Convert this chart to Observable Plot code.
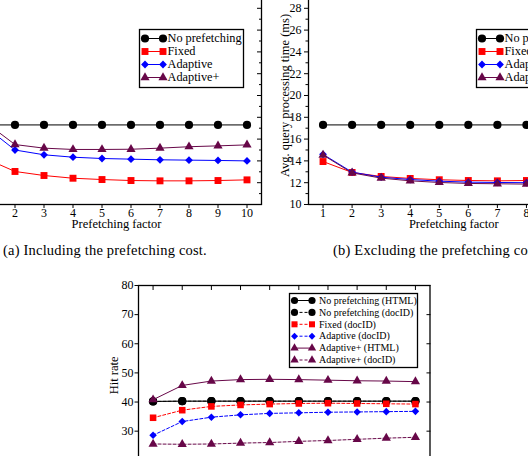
<!DOCTYPE html>
<html>
<head>
<meta charset="utf-8">
<script src="https://cdn.jsdelivr.net/npm/d3@7"></script>
<script src="https://cdn.jsdelivr.net/npm/@observablehq/plot@0.6"></script>
<style>
  html, body { margin: 0; padding: 0; background: #fff; }
  #fig { position: relative; width: 528px; height: 456px; overflow: hidden; background: #fff;
         font-family: "Liberation Serif", "Times New Roman", serif; color: #000; }
  .panel { position: absolute; }
  .panel svg { overflow: visible; max-width: none !important; display: block; }
  .legend { position: absolute; }
  .legend svg { display: block; }
  .caption { position: absolute; font-size: 14.5px; letter-spacing: 0.2px; white-space: nowrap; line-height: 1; }
</style>
</head>
<body>
<div id="fig"></div>
<script>
// Prefetching factor
const factors = [1, 2, 3, 4, 5, 6, 7, 8, 9, 10];

// (a) Avg. query processing time (ms), including the prefetching cost
const costNoPrefetch   = [17.3, 17.3, 17.3, 17.3, 17.3, 17.3, 17.3, 17.3, 17.3, 17.3];
const costFixed        = [14.2, 13.03, 12.66, 12.41, 12.29, 12.2, 12.17, 12.17, 12.2, 12.26];
const costAdaptive     = [17.1, 15.0, 14.56, 14.34, 14.22, 14.16, 14.1, 14.07, 14.04, 14.0];
const costAdaptivePlus = [17.5, 15.5, 15.17, 15.05, 15.05, 15.07, 15.17, 15.3, 15.38, 15.47];

// (b) Avg. query processing time (ms), excluding the prefetching cost
const exclFactors      = [1, 2, 3, 4, 5, 6, 7, 8];
const exclNoPrefetch   = [17.3, 17.3, 17.3, 17.3, 17.3, 17.3, 17.3, 17.3];
const exclFixed        = [13.94, 12.94, 12.57, 12.39, 12.27, 12.2, 12.17, 12.2];
const exclAdaptive     = [14.6, 12.97, 12.5, 12.29, 12.14, 12.05, 12.02, 12.0];
const exclAdaptivePlus = [14.54, 12.9, 12.42, 12.17, 12.02, 11.93, 11.9, 11.87];

// (c) Hit rate
const hitNoPrefetchHTML    = [40.2, 40.3, 40.3, 40.3, 40.3, 40.3, 40.3, 40.3, 40.3, 40.3];
const hitNoPrefetchDocID   = [40.2, 40.3, 40.3, 40.3, 40.3, 40.3, 40.3, 40.3, 40.3, 40.3];
const hitFixedDocID        = [34.6, 37.2, 38.5, 39.0, 39.3, 39.5, 39.6, 39.5, 39.4, 39.3];
const hitAdaptiveDocID     = [28.6, 33.3, 34.8, 35.6, 36.1, 36.3, 36.5, 36.6, 36.7, 36.8];
const hitAdaptivePlusHTML  = [40.8, 45.7, 47.2, 47.7, 47.8, 47.7, 47.5, 47.3, 47.2, 47.0];
const hitAdaptivePlusDocID = [25.6, 25.5, 25.6, 25.9, 26.1, 26.5, 26.8, 27.2, 27.6, 27.9];

// Tick values
const timeTicks      = [10, 12, 14, 16, 18, 20, 22, 24, 26, 28, 30];
const timeMinorTicks = [11, 13, 15, 17, 19, 21, 23, 25, 27, 29];
const hitTicks       = [20, 30, 40, 50, 60, 70, 80];

// Labels
const timeLegend = ["No prefetching", "Fixed", "Adaptive", "Adaptive+"];
const hitLegend = ["No prefetching (HTML)", "No prefetching (docID)", "Fixed (docID)",
                   "Adaptive (docID)", "Adaptive+ (HTML)", "Adaptive+ (docID)"];
const xLabel = "Prefetching factor";
const timeLabel = "Avg. query processing time (ms)";
const hitLabel = "Hit rate";
const captionA = "(a) Including the prefetching cost.";
const captionB = "(b) Excluding the prefetching cost.";

// Series styling (xmgrace-like palette)
const BLACK = "#000000", RED = "#ff0000", BLUE = "#0000ff", MAROON = "#670748";
const styleNone  = {color: BLACK,  symbol: "circle",   r: 4.1};
const styleFixed = {color: RED,    symbol: "square",   r: 3.9};
const styleAdapt = {color: BLUE,   symbol: "diamond2", r: 3.5};
const stylePlus  = {color: MAROON, symbol: "triangle", r: 3.4};
const DASH = "3,2";

const fig = document.getElementById("fig");

function seriesMarks(xs, ys, st, dash) {
  const data = xs.map((x, i) => ({x, y: ys[i]}));
  return [
    Plot.line(data, {x: "x", y: "y", stroke: st.color, strokeWidth: 1, strokeDasharray: dash}),
    Plot.dot(data, {x: "x", y: "y", symbol: () => st.symbol, r: st.r, fill: st.color, stroke: "none"})
  ];
}

function place(node, left, top, cls, width) {
  const wrap = document.createElement("div");
  wrap.className = cls;
  wrap.style.left = left + "px";
  wrap.style.top = top + "px";
  if (width) wrap.style.width = width + "px";
  wrap.appendChild(node);
  fig.appendChild(wrap);
}

const symbolTypes = {circle: d3.symbolCircle, square: d3.symbolSquare,
                     diamond2: d3.symbolDiamond2, triangle: d3.symbolTriangle};

// Legend box drawn with d3 symbols, same look as the plotted series
function legend(entries, o) {
  const svg = d3.create("svg").attr("width", o.width + 2).attr("height", o.height + 2)
    .style("overflow", "visible");
  svg.append("rect").attr("x", 0.5).attr("y", 0.5).attr("width", o.width).attr("height", o.height)
    .attr("fill", "#fff").attr("stroke", "#000").attr("stroke-width", 1.3);
  entries.forEach((e, i) => {
    const y = o.firstRow + i * o.rowStep;
    svg.append("line").attr("x1", o.x1).attr("x2", o.x2).attr("y1", y).attr("y2", y)
      .attr("stroke", e.st.color).attr("stroke-width", 1).attr("stroke-dasharray", e.dash || null);
    for (const x of [o.x1, o.x2]) {
      svg.append("path")
        .attr("d", d3.symbol(symbolTypes[e.st.symbol], Math.PI * e.st.r * e.st.r)())
        .attr("transform", `translate(${x},${y})`)
        .attr("fill", e.st.color);
    }
    svg.append("text").attr("x", o.textX).attr("y", y).attr("dy", "0.32em")
      .attr("font-size", o.fontSize).attr("font-family", "Liberation Serif, serif")
      .attr("fill", "#000").text(e.label);
  });
  return svg.node();
}

const baseStyle = {fontFamily: "Liberation Serif, serif", fontSize: "12px", color: "#000",
                   background: "transparent", overflow: "visible"};

// ---------- (a) Including the prefetching cost ----------
const plotA = Plot.plot({
  width: 350, height: 268,
  marginLeft: 50, marginRight: 10, marginTop: 10, marginBottom: 40,
  x: {domain: [0.5, 10.5]},
  y: {domain: [10, 30]},
  style: baseStyle,
  marks: [
    Plot.frame({stroke: "#000", strokeWidth: 1.3}),
    Plot.axisX({anchor: "bottom", ticks: factors, tickSize: 4, tickPadding: 0, label: null, fontSize: 12}),
    Plot.axisY({anchor: "right", ticks: timeTicks, tickSize: 5, dx: -5, tickFormat: () => "", label: null}),
    Plot.axisY({anchor: "right", ticks: timeMinorTicks, tickSize: 3, dx: -3, tickFormat: () => "", label: null}),
    Plot.text([xLabel], {text: d => d, frameAnchor: "bottom", textAnchor: "middle", dy: 19.5, lineAnchor: "middle", fontSize: 12.5}),
    ...seriesMarks(factors, costNoPrefetch, styleNone),
    ...seriesMarks(factors, costFixed, styleFixed),
    ...seriesMarks(factors, costAdaptive, styleAdapt),
    ...seriesMarks(factors, costAdaptivePlus, stylePlus)
  ]
});
place(plotA, -79.5, -24, "panel", 350);

// ---------- (b) Excluding the prefetching cost ----------
const plotB = Plot.plot({
  width: 350.6, height: 268,
  marginLeft: 50, marginRight: 10, marginTop: 10, marginBottom: 40,
  x: {domain: [0.5, 10.5]},
  y: {domain: [10, 30]},
  style: baseStyle,
  marks: [
    Plot.frame({stroke: "#000", strokeWidth: 1.3}),
    Plot.axisX({anchor: "bottom", ticks: factors, tickSize: 4, tickPadding: 0, label: null, fontSize: 12}),
    Plot.axisY({anchor: "left", ticks: timeTicks, tickSize: 4, tickPadding: 3, label: null, fontSize: 12}),
    Plot.axisY({anchor: "left", ticks: timeMinorTicks, tickSize: 2.5, tickFormat: () => "", label: null}),
    Plot.text([xLabel], {text: d => d, frameAnchor: "bottom", textAnchor: "middle", dy: 19.5, lineAnchor: "middle", fontSize: 12.5}),
    Plot.text([timeLabel], {text: d => d, frameAnchor: "left", textAnchor: "middle", rotate: -90, dx: -24, lineAnchor: "middle", fontSize: 12.5}),
    ...seriesMarks(exclFactors, exclNoPrefetch, styleNone),
    ...seriesMarks(exclFactors, exclFixed, styleFixed),
    ...seriesMarks(exclFactors, exclAdaptive, styleAdapt),
    ...seriesMarks(exclFactors, exclAdaptivePlus, stylePlus)
  ]
});
place(plotB, 257.8, -24, "panel", 350.6);

// ---------- (c) Hit rate ----------
const plotC = Plot.plot({
  width: 346.5, height: 194.8,
  marginLeft: 45, marginRight: 10, marginTop: 10, marginBottom: 10,
  x: {domain: [0.5, 10.5]},
  y: {domain: [20, 80]},
  style: baseStyle,
  marks: [
    Plot.frame({stroke: "#000", strokeWidth: 1.3}),
    Plot.axisX({anchor: "top", ticks: factors, tickSize: 4, dy: 4, tickFormat: () => "", label: null}),
    Plot.axisY({anchor: "left", ticks: hitTicks, tickSize: 3.5, tickPadding: 1.5, label: null, fontSize: 12}),
    Plot.axisY({anchor: "right", ticks: hitTicks, tickSize: 4, dx: -4, tickFormat: () => "", label: null}),
    Plot.text([hitLabel], {text: d => d, frameAnchor: "left", textAnchor: "middle", rotate: -90, dx: -24.5, dy: 2.5, lineAnchor: "middle", fontSize: 12.5}),
    ...seriesMarks(factors, hitNoPrefetchHTML, styleNone),
    ...seriesMarks(factors, hitNoPrefetchDocID, styleNone, DASH),
    ...seriesMarks(factors, hitFixedDocID, {...styleFixed, r: 3.7}, DASH),
    ...seriesMarks(factors, hitAdaptiveDocID, {...styleAdapt, r: 3.4}, DASH),
    ...seriesMarks(factors, hitAdaptivePlusHTML, stylePlus),
    ...seriesMarks(factors, hitAdaptivePlusDocID, stylePlus, DASH)
  ]
});
place(plotC, 92.5, 275, "panel", 346.5);

// ---------- Legends ----------
const timeEntries = [
  {label: timeLegend[0], st: styleNone},
  {label: timeLegend[1], st: styleFixed},
  {label: timeLegend[2], st: styleAdapt},
  {label: timeLegend[3], st: stylePlus}
];
const timeLegendBox = {width: 104, height: 58, firstRow: 9.5, rowStep: 13, x1: 6, x2: 24, textX: 28.5, fontSize: 12.3};
place(legend(timeEntries, timeLegendBox), 139, 29, "legend");
place(legend(timeEntries, timeLegendBox), 476, 29, "legend");

const hitEntries = [
  {label: hitLegend[0], st: {...styleNone, r: 3.6}},
  {label: hitLegend[1], st: {...styleNone, r: 3.6}, dash: DASH},
  {label: hitLegend[2], st: {...styleFixed, r: 3.4}, dash: DASH},
  {label: hitLegend[3], st: {...styleAdapt, r: 3.1}, dash: DASH},
  {label: hitLegend[4], st: {...stylePlus, r: 3.1}},
  {label: hitLegend[5], st: {...stylePlus, r: 3.1}, dash: DASH}
];
place(legend(hitEntries, {width: 128, height: 74, firstRow: 7.5, rowStep: 11.9, x1: 5.5, x2: 23, textX: 30, fontSize: 10}),
      289, 293, "legend");

// ---------- Captions ----------
for (const [text, left] of [[captionA, 3], [captionB, 333]]) {
  const c = document.createElement("div");
  c.className = "caption";
  c.textContent = text;
  c.style.left = left + "px";
  c.style.top = "243px";
  fig.appendChild(c);
}
</script>
</body>
</html>
